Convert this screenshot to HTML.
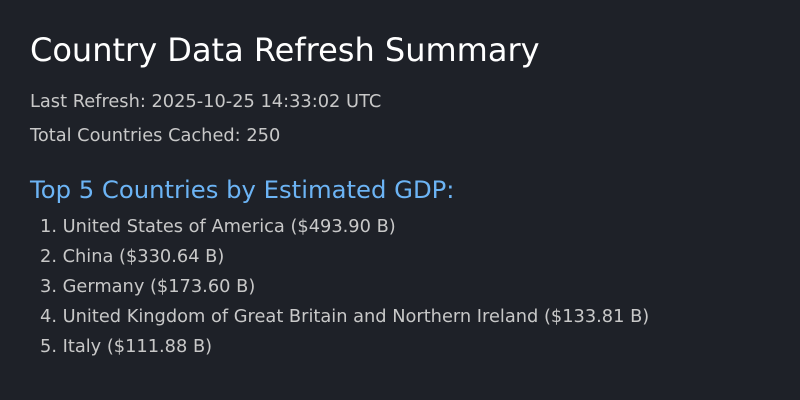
<!DOCTYPE html>
<html><head><meta charset="utf-8"><style>
html,body{margin:0;padding:0;background:#1e2128;}
svg{display:block;font-family:"DejaVu Sans","Liberation Sans",sans-serif;}
</style></head><body>
<svg width="800" height="400">
<rect width="800" height="400" fill="#1e2128"/>
<text x="30" y="61" font-size="32" fill="#ffffff">Country Data Refresh Summary</text>
<text x="30" y="107" font-size="17.8" fill="#c8c8c8">Last Refresh: 2025-10-25 14:33:02 UTC</text>
<text x="30" y="141" font-size="17.8" fill="#c8c8c8">Total Countries Cached: 250</text>
<text x="30" y="198" font-size="24.3" fill="#6cb4f5">Top 5 Countries by Estimated GDP:</text>
<g font-size="17.8" fill="#c8c8c8">
<text x="40" y="232">1. United States of America ($493.90 B)</text>
<text x="40" y="262">2. China ($330.64 B)</text>
<text x="40" y="292">3. Germany ($173.60 B)</text>
<text x="40" y="322">4. United Kingdom of Great Britain and Northern Ireland ($133.81 B)</text>
<text x="40" y="352">5. Italy ($111.88 B)</text>
</g>
</svg>
</body></html>
